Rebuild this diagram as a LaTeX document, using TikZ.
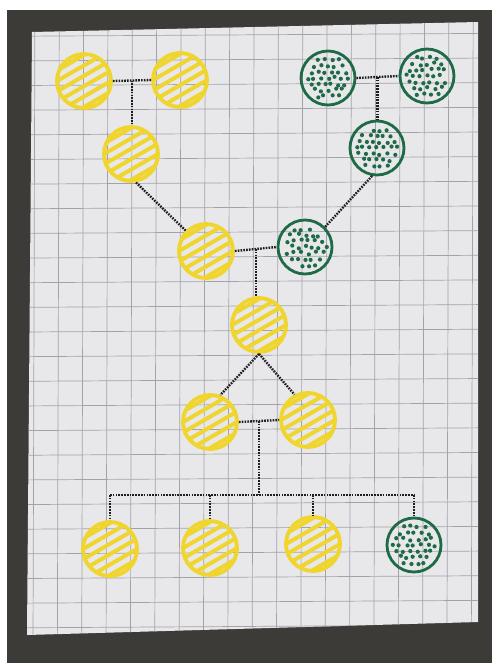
\documentclass[tikz,border=0pt]{standalone}
\usetikzlibrary{calc}
\definecolor{bgdark}{HTML}{3D3B38}
\definecolor{paper}{HTML}{E8E8EA}
\definecolor{gridc}{HTML}{A2A2AA}
\definecolor{ylw}{HTML}{EFD52E}
\definecolor{grn}{HTML}{1F6B47}
\definecolor{ink}{HTML}{1E1E1E}
\begin{document}
\begin{tikzpicture}[x=0.03cm,y=-0.03cm,
  yellowind/.style={circle,minimum size=1.62cm,inner sep=0pt,draw=ylw,line width=3.3pt,
    path picture={
      \foreach \k in {-22.5,-13.5,-4.5,4.5,13.5,22.5}{
        \draw[ylw,line width=3.4pt]
          ($(path picture bounding box.center)+({0.5*\k-34.6},{0.866*\k+20})$) --
          ($(path picture bounding box.center)+({0.5*\k+34.6},{0.866*\k-20})$);}
    }},
  greenind/.style={circle,minimum size=1.62cm,inner sep=0pt,draw=grn,line width=2.4pt,
    path picture={
      \pgfmathsetseed{#1}
      \foreach \i in {-4,...,4}{
        \foreach \j in {-4,...,4}{
          \pgfmathsetmacro\px{\i*7+mod(abs(\j),2)*3.5+3*rnd-1.5}
          \pgfmathsetmacro\py{\j*6+3*rnd-1.5}
          \pgfmathtruncatemacro\ok{(\px*\px+\py*\py<480)?1:0}
          \ifnum\ok=1
            \fill[grn] ($(path picture bounding box.center)+(\px,\py)$) circle (1.8pt);
          \fi}}
    }},
  greenind/.default=7,
  link/.style={ink,line width=2pt,dash pattern=on 1.4pt off 1.0pt}
]
% background (photo)
\fill[white] (0,0) rectangle (492,663);
\fill[bgdark] (7,10) rectangle (492,663);
% paper
\fill[paper] (32,32) -- (478,22) -- (478,622) -- (27,635) -- cycle;
\begin{scope}
  \clip (32,32) -- (478,22) -- (478,622) -- (27,635) -- cycle;
  \foreach \i in {-1,0,...,17}{
    \draw[gridc,line width=0.6pt] ({59.3+24.35*\i},0) -- ({59.3+24.35*\i-2},663);}
  \foreach \j in {-1,0,...,24}{
    \draw[gridc,line width=0.6pt] (0,{60+24.65*\j+1}) -- (492,{60+24.65*\j-2});}
\end{scope}

% generation 1
\node[yellowind] (g1a) at (84,81) {};
\node[yellowind] (g1b) at (180,80) {};
\node[greenind=3] (g1c) at (328,78) {};
\node[greenind=5] (g1d) at (427,76) {};
% generation 2
\node[yellowind] (p1) at (131,154) {};
\node[greenind=11] (p2) at (377,148) {};
\node[yellowind] (f) at (206,251) {};
\node[greenind=17] (m) at (305,247) {};
% generation 3
\node[yellowind] (c) at (259,325) {};
% generation 4
\node[yellowind] (s1) at (210,422) {};
\node[yellowind] (s2) at (308,420) {};
% generation 5
\node[yellowind] (k1) at (110,549) {};
\node[yellowind] (k2) at (210,548) {};
\node[yellowind] (k3) at (313,544) {};
\node[greenind=23] (k4) at (414,545) {};

% connectors
\coordinate (u1) at ($(g1a.east)!0.5!(g1b.west)$);
\draw[link] (g1a.east) -- (g1b.west);
\draw[link] (u1) -- (u1 |- p1.north);
\coordinate (u2) at ($(g1c.east)!0.5!(g1d.west)$);
\draw[link] (g1c.east) -- (g1d.west);
\draw[link] (u2) -- (u2 |- p2.north);
\draw[link] (p1.-80) -- (f.135);
\draw[link] (p2.-100) -- (m.45);
\coordinate (u3) at ($(f.east)!0.5!(m.west)$);
\draw[link] (f.east) -- (m.west);
\draw[link] (u3) -- (u3 |- c.north);
\draw[link] (c.south) -- (s1.69);
\draw[link] (c.south) -- (s2.118);
\coordinate (u4) at ($(s1.east)!0.5!(s2.west)$);
\coordinate (bar) at (259,495);
\draw[link] (s1.east) -- (s2.west);
\draw[link] (u4) -- (u4 |- bar);
\draw[link] (k1.north |- bar) -- (k4.north |- bar);
\foreach \k in {k1,k2,k3,k4}{
  \draw[link] (\k.north |- bar) -- (\k.north);}
\end{tikzpicture}
\end{document}
